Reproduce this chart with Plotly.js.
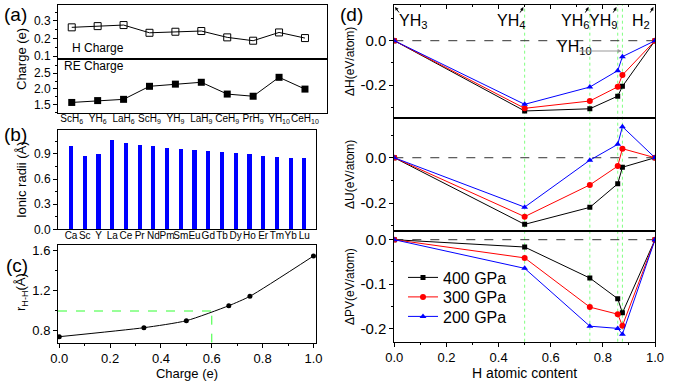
<!DOCTYPE html>
<html><head><meta charset="utf-8">
<script src="https://cdn.plot.ly/plotly-3.0.1.min.js"></script>
<style>html,body{margin:0;padding:0;background:#fff}#chart{width:682px;height:383px}</style>
</head><body><div id="chart"></div>
<script>
// ---- data ----
const compounds = ['ScH<sub>6</sub>','YH<sub>6</sub>','LaH<sub>6</sub>','ScH<sub>9</sub>','YH<sub>9</sub>','LaH<sub>9</sub>','CeH<sub>9</sub>','PrH<sub>9</sub>','YH<sub>10</sub>','CeH<sub>10</sub>'];
const hCharge  = [0.263, 0.270, 0.276, 0.232, 0.238, 0.242, 0.206, 0.187, 0.234, 0.202];
const reCharge = [1.56, 1.62, 1.66, 2.08, 2.15, 2.21, 1.83, 1.76, 2.37, 1.99];
const elements = ['Ca','Sc','Y','La','Ce','Pr','Nd','Pm','Sm','Eu','Gd','Tb','Dy','Ho','Er','Tm','Yb','Lu'];
const ionicRadii = [0.99, 0.87, 0.90, 1.06, 1.03, 1.01, 0.99, 0.975, 0.96, 0.947, 0.938, 0.923, 0.912, 0.90, 0.88, 0.866, 0.855, 0.845];
const chargeE = [0, 0.333, 0.5, 0.667, 0.75, 1.0];
const rHH = [0.733, 0.823, 0.893, 1.043, 1.137, 1.54];
const hContent = [0, 0.5, 0.75, 0.857, 0.875, 1];
const dH400 = [0, -0.317, -0.307, -0.250, -0.206, 0];
const dH300 = [0, -0.305, -0.272, -0.208, -0.155, 0];
const dH200 = [0, -0.287, -0.209, -0.135, -0.072, 0];
const dU400 = [0, -0.294, -0.219, -0.115, -0.042, 0];
const dU300 = [0, -0.260, -0.120, -0.037, 0.040, 0];
const dU200 = [0, -0.218, -0.011, 0.059, 0.137, 0];
const dPV400 = [0, -0.0165, -0.0865, -0.133, -0.165, 0];
const dPV300 = [0, -0.041, -0.152, -0.168, -0.194, 0];
const dPV200 = [0, -0.0646, -0.195, -0.200, -0.213, 0];
const pressures = ['400 GPa','300 GPa','200 GPa'];
const phaseLabels = ['YH<sub>3</sub>','YH<sub>4</sub>','YH<sub>6</sub>','YH<sub>9</sub>','H<sub>2</sub>'];
const phaseX = [0, 0.5, 0.75, 0.857, 1];
const chargeGuide = [0.6, 0.99];

const FONT = 'Arial, "Liberation Sans", sans-serif';
const W = 682, H = 383;
const px = v => v / W, py = v => 1 - v / H;

const cols = ['#000000', '#ff0000', '#0000ff'];
const syms = ['square', 'circle', 'triangle-up'];
const msz = [5, 6, 6];
const legNames = ['legend', 'legend2', 'legend3'];

const traces = [];
const idx = [...compounds.keys()].map(i => i + 1);
traces.push({x: idx, y: hCharge, xaxis:'x', yaxis:'y', mode:'lines+markers', showlegend:false,
  line:{color:'#000', width:1}, marker:{symbol:'square-open', size:7, color:'#000', line:{width:1}}});
traces.push({x: idx, y: reCharge, xaxis:'x2', yaxis:'y2', mode:'lines+markers', showlegend:false,
  line:{color:'#000', width:1}, marker:{symbol:'square', size:7, color:'#000'}});
traces.push({x: elements.map((e,i)=>i), y: ionicRadii, xaxis:'x3', yaxis:'y3', type:'bar', width:0.3,
  marker:{color:'#0000ff'}, showlegend:false});
traces.push({x: chargeE, y: rHH, xaxis:'x4', yaxis:'y4', mode:'lines+markers', showlegend:false,
  line:{color:'#000', width:1, shape:'spline', smoothing:0.6}, marker:{symbol:'circle', size:5, color:'#000'}});
const dsets = [[dH400,dH300,dH200],[dU400,dU300,dU200],[dPV400,dPV300,dPV200]];
dsets.forEach((set, k) => {
  set.forEach((ys, j) => {
    traces.push({x: hContent, y: ys, xaxis:'x'+(5+k), yaxis:'y'+(5+k), mode:'lines+markers',
      name: pressures[j], showlegend: k===2, legend: legNames[j],
      line:{color:cols[j], width:1}, marker:{symbol:syms[j], size:msz[j], color:cols[j]}});
  });
});

const base = {showline:true, linecolor:'#000', linewidth:1, mirror:true, zeroline:false, showgrid:false,
  ticks:'outside', ticklen:4, tickcolor:'#000', tickfont:{family:FONT, size:12, color:'#000'}};
function ax(o){ return Object.assign({}, base, o); }

const dxA = [px(58), px(327)], dxBC = [px(58), px(316)], dxD = [px(394.3), px(655)];
const legBase = (y) => ({x:px(403), y:py(y), xanchor:'left', yanchor:'middle', bgcolor:'rgba(0,0,0,0)',
  borderwidth:0, font:{family:FONT, size:16, color:'#000'}, itemwidth:30});
const layout = {
  width: W, height: H, margin:{l:0,r:0,t:0,b:0}, paper_bgcolor:'#fff', plot_bgcolor:'#fff',
  font:{family:FONT, color:'#000'},
  showlegend: true,
  legend: legBase(277.5), legend2: legBase(297), legend3: legBase(316.5),
  bargap: 0,
  xaxis: ax({domain:dxA, anchor:'y', range:[0.47,10.85], showticklabels:false, ticks:''}),
  yaxis: ax({domain:[py(59), py(5)], anchor:'x', range:[0.083,0.39], tickvals:[0.1,0.2,0.3],
    ticktext:['0.1','0.2','0.3'], minor:{ticks:'outside', ticklen:2, dtick:0.05, tickcolor:'#000'}}),
  xaxis2: ax({domain:dxA, anchor:'y2', range:[0.47,10.85], tickvals:idx, ticktext:compounds, ticks:'',
    tickangle:0, ticklabelstandoff:-4, tickfont:{family:FONT, size:10, color:'#000'}}),
  yaxis2: ax({domain:[py(113), py(59)], anchor:'x2', range:[1.22,2.96], tickvals:[1.5,2.0,2.5],
    ticktext:['1.5','2.0','2.5'], minor:{ticks:'outside', ticklen:2, dtick:0.25, tickcolor:'#000'}}),
  xaxis3: ax({domain:dxBC, anchor:'y3', range:[-0.95,17.85], tickvals:elements.map((e,i)=>i), ticktext:elements,
    ticks:'', tickangle:0, ticklabelstandoff:-3, tickfont:{family:FONT, size:10, color:'#000'}}),
  yaxis3: ax({domain:[py(229.3), py(130)], anchor:'x3', range:[0,1.185], tickvals:[0,0.3,0.6,0.9],
    ticktext:['0.0','0.3','0.6','0.9'], minor:{ticks:'outside', ticklen:2, dtick:0.15, tickcolor:'#000'}}),
  xaxis4: ax({domain:dxBC, anchor:'y4', range:[-0.005,1.01], dtick:0.2, tickformat:'.1f',
    tickfont:{family:FONT, size:13, color:'#000'},
    minor:{ticks:'outside', ticklen:2, dtick:0.1, tickcolor:'#000'},
    title:{text:'Charge (e)', font:{family:FONT, size:13, color:'#000'}, standoff:2}}),
  yaxis4: ax({domain:[py(342.7), py(245)], anchor:'x4', range:[0.673,1.65], tickvals:[0.8,1.2,1.6],
    ticktext:['0.8','1.2','1.6'], tickfont:{family:FONT, size:13, color:'#000'},
    minor:{ticks:'outside', ticklen:2, dtick:0.2, tickcolor:'#000'}}),
  xaxis5: ax({domain:dxD, anchor:'y5', side:'top', range:[0,1], showticklabels:false, dtick:0.2, ticks:'inside',
    minor:{ticks:'inside', ticklen:2, dtick:0.1, tickcolor:'#000'}}),
  yaxis5: ax({domain:[py(118.3), py(5)], anchor:'x5', range:[-0.35,0.161], tickvals:[-0.2,0],
    ticktext:['-0.2','0.0'], tickfont:{family:FONT, size:15, color:'#000'},
    minor:{ticks:'outside', ticklen:2, dtick:0.1, tickcolor:'#000'}}),
  xaxis6: ax({domain:dxD, anchor:'y6', range:[0,1], showticklabels:false, ticks:''}),
  yaxis6: ax({domain:[py(230.7), py(118.3)], anchor:'x6', range:[-0.322,0.174], tickvals:[-0.2,0],
    ticktext:['-0.2','0.0'], tickfont:{family:FONT, size:15, color:'#000'},
    minor:{ticks:'outside', ticklen:2, dtick:0.1, tickcolor:'#000'}}),
  xaxis7: ax({domain:dxD, anchor:'y7', range:[0,1], dtick:0.2, tickformat:'.1f',
    tickfont:{family:FONT, size:13, color:'#000'},
    minor:{ticks:'outside', ticklen:2, dtick:0.1, tickcolor:'#000'},
    title:{text:'H atomic content', font:{family:FONT, size:14, color:'#000'}, standoff:0}}),
  yaxis7: ax({domain:[py(341.7), py(230.7)], anchor:'x7', range:[-0.230,0.0203], tickvals:[-0.2,-0.1,0],
    ticktext:['-0.2','-0.1','0.0'], tickfont:{family:FONT, size:15, color:'#000'},
    minor:{ticks:'outside', ticklen:2, dtick:0.05, tickcolor:'#000'}}),
  shapes: [], annotations: []
};

// guide lines
['y5','y6','y7'].forEach((ya, k) => {
  layout.shapes.push({type:'line', xref:'x'+(5+k), yref:ya, x0:0, x1:1, y0:0, y1:0,
    line:{color:'#333', width:1, dash:'dash'}, layer:'below'});
});
[0.5, 0.75, 0.857, 0.875].forEach(v => {
  layout.shapes.push({type:'line', xref:'x7', yref:'paper', x0:v, x1:v, y0:py(341.7), y1:py(5),
    line:{color:'#80ff80', width:1, dash:'dot'}, layer:'below'});
});
layout.shapes.push({type:'line', xref:'x4', yref:'y4', x0:-0.005, x1:chargeGuide[0], y0:chargeGuide[1], y1:chargeGuide[1],
  line:{color:'#33ff33', width:1, dash:'dash'}, layer:'below'});
layout.shapes.push({type:'line', xref:'x4', yref:'y4', x0:chargeGuide[0], x1:chargeGuide[0], y0:0.673, y1:chargeGuide[1],
  line:{color:'#33ff33', width:1, dash:'dash'}, layer:'below'});

const A = layout.annotations;
const lab = (t, x, y, size, opts) => A.push(Object.assign({text:t, xref:'paper', yref:'paper', x:px(x), y:py(y),
  xanchor:'center', yanchor:'middle', showarrow:false, font:{family:FONT, size:size, color:'#000'}}, opts||{}));
lab('(a)', 2, 15, 19, {xanchor:'left'});
lab('(b)', 2, 134, 19, {xanchor:'left'});
lab('(c)', 4, 265, 19, {xanchor:'left'});
lab('(d)', 338, 15, 19, {xanchor:'left'});
lab('Charge (e)', 21, 59, 13, {textangle:-90});
lab('Ionic radii (Å)', 21, 180, 13, {textangle:-90});
lab('r<sub>H-H</sub>(Å)', 21, 292, 13, {textangle:-90});
lab('ΔH(eV/atom)', 350, 62, 12, {textangle:-90});
lab('ΔU(eV/atom)', 350, 175, 12, {textangle:-90});
lab('ΔPV(eV/atom)', 350, 287, 12, {textangle:-90});
A.push({text:'H Charge', xref:'x', yref:'y', x:0.93, y:0.146, xanchor:'left', yanchor:'middle', showarrow:false,
  font:{family:FONT, size:12, color:'#000'}});
A.push({text:'RE Charge', xref:'x2', yref:'y2', x:0.62, y:2.74, xanchor:'left', yanchor:'middle', showarrow:false,
  font:{family:FONT, size:12, color:'#000'}});

// phase labels in (d)
const labRight = [null, 0.51, 0.753, 0.86, 0.99];
phaseLabels.forEach((t, i) => {
  const o = {text:t, xref:'x5', yref:'paper', y:py(22), yanchor:'middle', showarrow:false,
    font:{family:FONT, size:16, color:'#000'}};
  if (i === 0) { o.x = 0.01; o.xanchor = 'left'; } else { o.x = labRight[i]; o.xanchor = 'right'; }
  A.push(o);
  const tip = i === 0 ? 0.003 : (phaseX[i] === 1 ? 0.994 : phaseX[i] - 0.005);
  A.push({text:'', xref:'x5', yref:'paper', x:tip, y:py(7), showarrow:true, arrowhead:2, arrowsize:0.7,
    arrowwidth:1, arrowcolor:'#000', ax: i === 0 ? 5 : -4, ay: 7});
});
A.push({text:'YH<sub>10</sub>', xref:'x5', yref:'y5', x:0.618, y:-0.03, xanchor:'left', yanchor:'middle', showarrow:false,
  font:{family:FONT, size:16, color:'#000'}});
A.push({text:'', xref:'x5', yref:'y5', x:0.872, y:-0.0465, showarrow:true, arrowhead:2, arrowsize:0.8,
  arrowwidth:1, arrowcolor:'#999', ax:-44, ay:0});

Plotly.newPlot('chart', traces, layout, {staticPlot:true, displayModeBar:false});
</script></body></html>
